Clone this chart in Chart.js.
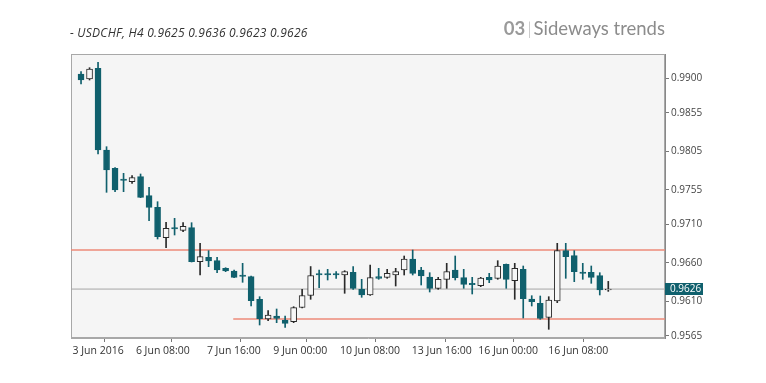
<!DOCTYPE html>
<html>
<head>
<meta charset="utf-8">
<script src="https://cdn.jsdelivr.net/npm/chart.js@4/dist/chart.umd.min.js"></script>
<style>
  html,body{margin:0;padding:0;background:#fff;}
  #wrap{position:relative;width:766px;height:383px;}
  #c{position:absolute;left:0;top:0;}
  #tl{position:absolute;left:70px;top:24px;font:italic 12px "Open Sans",sans-serif;letter-spacing:0.25px;color:#333;white-space:nowrap;}
  #tr{position:absolute;right:101px;top:17px;font:18.5px "Lato",sans-serif;color:#8c8c8c;white-space:nowrap;}
  #tr b{font-weight:bold;color:#9a9a9a;}
  #tr span.sep{color:#b8b8b8;font-weight:300;margin:0 2px;}
</style>
</head>
<body>
<div id="wrap">
  <canvas id="c" width="766" height="383"></canvas>
  <div id="tl">- USDCHF, H4 0.9625 0.9636 0.9623 0.9626</div>
  <div id="tr"><b>03</b><span class="sep">|</span>Sideways trends</div>
</div>
<script>
// ---- data (H4 candles, index order) ----
const opens  = [0.99056,0.98991,0.99130,0.98068,0.97830,0.97691,0.97656,0.97721,0.97474,0.97323,
                0.96928,0.97058,0.97024,0.97058,0.96616,0.96673,0.96629,0.96530,0.96495,0.96443,
                0.96421,0.96127,0.95871,0.95910,0.95858,0.95836,0.96020,0.96176,0.96460,0.96460,
                0.96460,0.96443,0.96478,0.96257,0.96183,0.96421,0.96413,0.96443,0.96508,0.96651,
                0.96508,0.96417,0.96270,0.96387,0.96508,0.96408,0.96335,0.96304,0.96413,0.96400,
                0.96582,0.96369,0.96517,0.96131,0.96075,0.95893,0.96105,0.96759,0.96694,0.96482,
                0.96478,0.96434,0.96250];
const highs  = [0.99086,0.99138,0.99208,0.98111,0.97838,0.97765,0.97734,0.97756,0.97583,0.97396,
                0.97128,0.97180,0.97123,0.97123,0.96855,0.96759,0.96673,0.96538,0.96508,0.96595,
                0.96430,0.96161,0.95979,0.96001,0.95910,0.96031,0.96257,0.96553,0.96508,0.96517,
                0.96486,0.96499,0.96551,0.96387,0.96573,0.96530,0.96517,0.96530,0.96690,0.96768,
                0.96543,0.96473,0.96413,0.96595,0.96690,0.96517,0.96413,0.96413,0.96465,0.96629,
                0.96586,0.96595,0.96560,0.96174,0.96170,0.96161,0.96855,0.96855,0.96759,0.96595,
                0.96560,0.96473,0.96360];
const lows   = [0.98926,0.98978,0.98016,0.97518,0.97526,0.97526,0.97635,0.97448,0.97149,0.96911,
                0.96798,0.96963,0.97006,0.96612,0.96443,0.96551,0.96473,0.96486,0.96408,0.96348,
                0.96040,0.95793,0.95849,0.95823,0.95763,0.95823,0.96014,0.96127,0.96277,0.96378,
                0.96400,0.96205,0.96257,0.96153,0.96176,0.96387,0.96400,0.96300,0.96443,0.96443,
                0.96313,0.96222,0.96257,0.96270,0.96378,0.96270,0.96196,0.96291,0.96343,0.96387,
                0.96270,0.96127,0.95884,0.96040,0.95867,0.95737,0.96083,0.96400,0.96356,0.96387,
                0.96335,0.96183,0.96230];
const closes = [0.98978,0.99121,0.98068,0.97808,0.97548,0.97674,0.97708,0.97453,0.97323,0.96941,
                0.97050,0.97041,0.97076,0.96616,0.96681,0.96625,0.96508,0.96495,0.96413,0.96426,
                0.96109,0.95875,0.95923,0.95880,0.95815,0.96018,0.96176,0.96436,0.96443,0.96443,
                0.96443,0.96486,0.96270,0.96183,0.96408,0.96400,0.96465,0.96486,0.96651,0.96465,
                0.96430,0.96270,0.96387,0.96486,0.96408,0.96322,0.96317,0.96404,0.96378,0.96560,
                0.96387,0.96530,0.96135,0.96096,0.95880,0.96118,0.96759,0.96681,0.96486,0.96465,
                0.96413,0.96248,0.96260];
const xTickPos    = [-1, 6.45, 14.8, 22.6, 30.45, 38.9, 46.7, 54.95];
const xTickLabels = ['3 Jun 2016','6 Jun 08:00','7 Jun 16:00','9 Jun 00:00','10 Jun 08:00','13 Jun 16:00','16 Jun 00:00','16 Jun 08:00'];
const yTicks      = [0.9900,0.9855,0.9805,0.9755,0.9710,0.9660,0.9610,0.9565];
const resistance  = 0.96768;
const support     = 0.95871;
const supportFrom = 17.9;
const lastPrice   = 0.9626;

// ---- layout / style ----
const X_MIN = -1.18, X_MAX = 68.67, Y_MIN = 0.95624, Y_MAX = 0.99316;
const TEAL = '#10606d', HOLLOW_FILL = '#f7f7f7', HOLLOW_LINE = '#2a2a2a';
const isBull = i => closes[i] > opens[i];

const frame = {
  id:'frame',
  beforeDatasetsDraw(chart){
    const {ctx, chartArea:a} = chart;
    ctx.save();
    ctx.fillStyle = '#f5f5f5';
    ctx.fillRect(a.left, a.top, a.right-a.left, a.bottom-a.top);
    ctx.strokeStyle = '#a8a8a8'; ctx.lineWidth = 1;
    ctx.strokeRect(Math.round(a.left)+0.5, Math.round(a.top)+0.5, a.right-a.left-1, a.bottom-a.top-1);
    ctx.restore();
  },
  afterDraw(chart){
    const {ctx, chartArea:a, scales} = chart;
    const y = scales.y.getPixelForValue(lastPrice);
    ctx.save();
    ctx.fillStyle = TEAL;
    ctx.fillRect(a.right, Math.round(y)-6, 38, 12);
    ctx.fillStyle = '#fff';
    ctx.font = '10px "Open Sans", sans-serif';
    ctx.textBaseline = 'middle';
    ctx.fillText(lastPrice.toFixed(4), a.right+5, Math.round(y)+0.5);
    ctx.restore();
  }
};

new Chart(document.getElementById('c'), {
  type:'bar',
  data:{
    datasets:[
      {type:'line', data:[{x:X_MIN,y:lastPrice},{x:X_MAX,y:lastPrice}], borderColor:'#a5a5a5', borderWidth:1, pointRadius:0, order:5},
      {type:'line', data:[{x:X_MIN,y:resistance},{x:X_MAX,y:resistance}], borderColor:'#ec8a78', borderWidth:1.6, pointRadius:0, order:4},
      {type:'line', data:[{x:supportFrom,y:support},{x:X_MAX,y:support}], borderColor:'#ec8a78', borderWidth:1.6, pointRadius:0, order:3},
      {label:'wick', data: opens.map((o,i)=>({x:i, y:[lows[i], highs[i]]})),
       backgroundColor: opens.map((o,i)=> isBull(i) ? HOLLOW_LINE : TEAL),
       barThickness:1, grouped:false, order:2},
      {label:'body', data: opens.map((o,i)=>({x:i, y:[o, closes[i]]})),
       backgroundColor: opens.map((o,i)=> isBull(i) ? HOLLOW_FILL : TEAL),
       borderColor: opens.map((o,i)=> isBull(i) ? HOLLOW_LINE : TEAL),
       borderWidth:1, borderSkipped:false, barThickness:6, grouped:false, order:1}
    ]
  },
  options:{
    responsive:false, animation:false, events:[],
    layout:{padding:{left:71, top:54, right:0, bottom:0}},
    plugins:{legend:{display:false}, tooltip:{enabled:false}, title:{display:false}},
    scales:{
      x:{type:'linear', min:X_MIN, max:X_MAX, offset:false,
         afterBuildTicks: s => { s.ticks = xTickPos.map(v=>({value:v})); },
         afterFit: s => { s.height = 45; },
         grid:{display:true, drawOnChartArea:false, drawTicks:true, tickLength:4, color:'#777'},
         border:{display:true, color:'#a8a8a8'},
         ticks:{autoSkip:false, maxRotation:0, minRotation:0, align:'start', padding:3,
                color:'#333', font:{family:'"Open Sans", sans-serif', size:10.5},
                callback:(v,i)=>xTickLabels[i]}},
      y:{type:'linear', position:'right', min:Y_MIN, max:Y_MAX,
         afterBuildTicks: s => { s.ticks = yTicks.map(v=>({value:v})); },
         afterFit: s => { s.width = 101; },
         grid:{display:true, drawOnChartArea:false, drawTicks:true, tickLength:4, color:'#777'},
         border:{display:true, color:'#888'},
         ticks:{padding:2, color:'#444', font:{family:'"Open Sans", sans-serif', size:10},
                callback:v=>v.toFixed(4)}}
    }
  },
  plugins:[frame]
});
</script>
</body>
</html>
